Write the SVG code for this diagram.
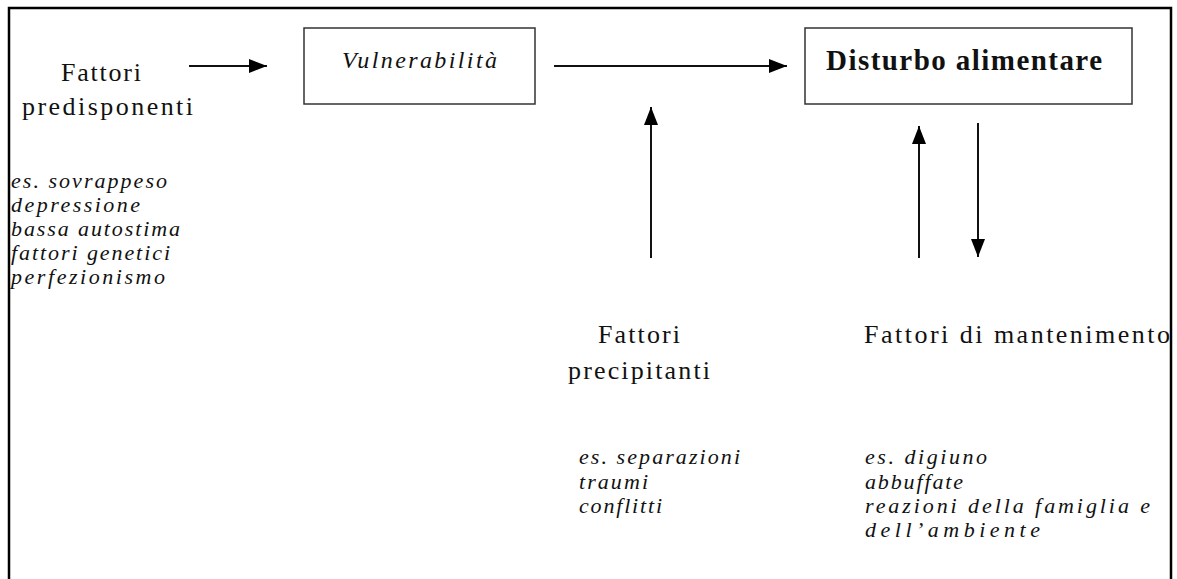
<svg xmlns="http://www.w3.org/2000/svg" width="1177" height="579" viewBox="0 0 1177 579">
<style>
.frame{stroke:#000;stroke-width:2.5;fill:none}
.box{fill:#fff;stroke:#333;stroke-width:1.5}
.lbl{font-family:"Liberation Serif","Times New Roman",serif;font-size:26px;fill:#111}
.it{font-family:"Liberation Serif","Times New Roman",serif;font-size:22px;font-style:italic;fill:#111}
.bold{font-family:"Liberation Serif","Times New Roman",serif;font-size:29px;font-weight:bold;fill:#111}
.conn{stroke:#111;stroke-width:2;fill:none;marker-end:url(#ah)}
</style>
<defs>
<marker id="ah" markerUnits="userSpaceOnUse" markerWidth="18" markerHeight="14" refX="18" refY="7" orient="auto">
<path d="M0,0 L18,7 L0,14 Z" fill="#000"/>
</marker>
</defs>
<rect width="1177" height="579" fill="#fff"/>
<path class="frame" d="M9,579 V8 H1171 V579"/>

<g id="predisponenti">
<text class="lbl" x="61" y="81" textLength="80" lengthAdjust="spacing">Fattori</text>
<text class="lbl" x="22" y="115" textLength="171" lengthAdjust="spacing">predisponenti</text>
<text class="it" x="11" y="188" textLength="156" lengthAdjust="spacing">es. sovrappeso</text>
<text class="it" x="11" y="212" textLength="129" lengthAdjust="spacing">depressione</text>
<text class="it" x="11" y="236" textLength="169" lengthAdjust="spacing">bassa autostima</text>
<text class="it" x="11" y="260" textLength="159" lengthAdjust="spacing">fattori genetici</text>
<text class="it" x="11" y="284" textLength="154" lengthAdjust="spacing">perfezionismo</text>
</g>

<g id="vulnerabilita">
<rect class="box" x="304" y="28" width="231" height="76"/>
<text class="it" style="font-size:24px" x="342" y="68" textLength="155" lengthAdjust="spacing">Vulnerabilità</text>
</g>

<g id="disturbo">
<rect class="box" x="805" y="28" width="327" height="76"/>
<text class="bold" x="826" y="70" textLength="276" lengthAdjust="spacing">Disturbo alimentare</text>
</g>

<g id="precipitanti">
<text class="lbl" x="598" y="343" textLength="82" lengthAdjust="spacing">Fattori</text>
<text class="lbl" x="568" y="379" textLength="142" lengthAdjust="spacing">precipitanti</text>
<text class="it" x="579" y="464" textLength="161" lengthAdjust="spacing">es. separazioni</text>
<text class="it" x="579" y="489" textLength="69" lengthAdjust="spacing">traumi</text>
<text class="it" x="579" y="513" textLength="83" lengthAdjust="spacing">conflitti</text>
</g>

<g id="mantenimento">
<text class="lbl" x="864" y="343" textLength="306" lengthAdjust="spacing">Fattori di mantenimento</text>
<text class="it" x="865" y="464" textLength="122" lengthAdjust="spacing">es. digiuno</text>
<text class="it" x="865" y="489" textLength="98" lengthAdjust="spacing">abbuffate</text>
<text class="it" x="865" y="513" textLength="285" lengthAdjust="spacing">reazioni della famiglia e</text>
<text class="it" x="865" y="537" textLength="175" lengthAdjust="spacing">dell’ambiente</text>
</g>

<g id="connectors">
<line class="conn" x1="189" y1="66" x2="267" y2="66"/>
<line class="conn" x1="554" y1="66" x2="787" y2="66"/>
<line class="conn" x1="651" y1="258" x2="651" y2="107"/>
<line class="conn" x1="919" y1="258" x2="919" y2="126"/>
<line class="conn" x1="978" y1="123" x2="978" y2="257"/>
</g>
</svg>
